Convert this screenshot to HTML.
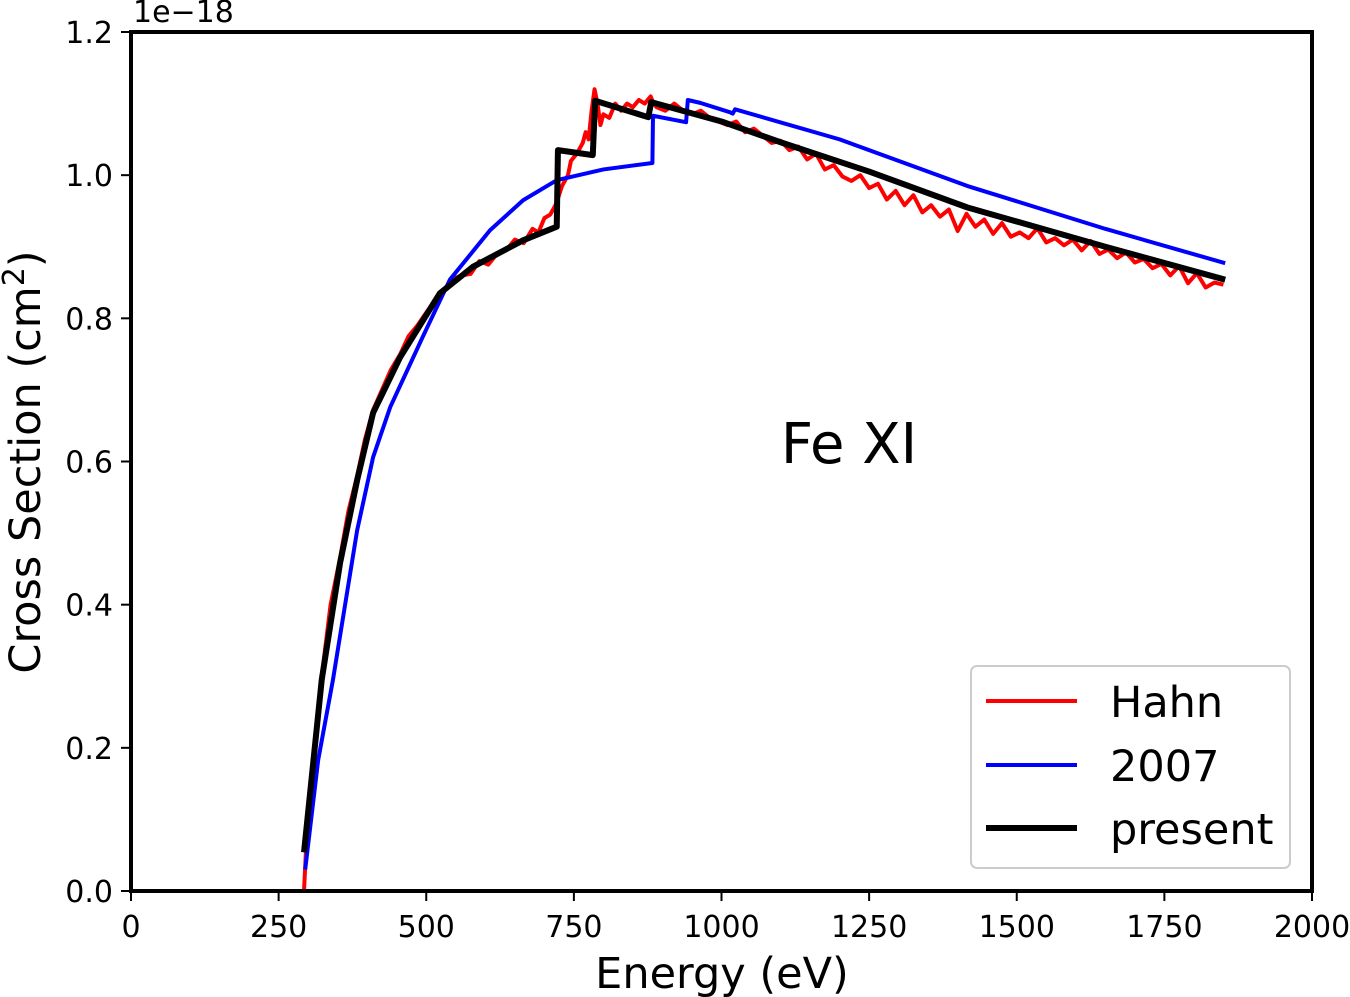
<!DOCTYPE html>
<html><head><meta charset="utf-8"><style>
body{margin:0;background:#fff}
svg{display:block;font-family:"DejaVu Sans","Liberation Sans",sans-serif}
</style></head><body>
<svg id="chart" width="1350" height="997" viewBox="0 0 1350 997">
<g id="plot"></g>
<g id="axes"></g>
</svg>
<script>
const xTicks=[0,250,500,750,1000,1250,1500,1750,2000];
const yTicks=[0.0,0.2,0.4,0.6,0.8,1.0,1.2];
const hahnE=[255,290,293,300,310,323,338,354,368,383,396,410,425,440,456,470,485,500,515,530,545,560,575,590,605,620,635,650,665,680,690,700,710,720,730,740,745,755,765,770,775,780,785,790,795,800,810,820,830,840,850,860,870,880,885,890,905,920,935,950,965,980,995,1010,1025,1040,1055,1070,1085,1100,1115,1130,1145,1160,1175,1190,1205,1220,1235,1250,1265,1280,1295,1310,1325,1340,1355,1370,1385,1400,1415,1430,1445,1460,1475,1490,1505,1520,1535,1550,1565,1580,1595,1610,1625,1640,1655,1670,1685,1700,1715,1730,1745,1760,1775,1790,1805,1820,1835,1850];
const hahnV=[0,0,0,0.12,0.2,0.3,0.4,0.465,0.53,0.58,0.63,0.672,0.7,0.728,0.75,0.775,0.79,0.808,0.825,0.84,0.855,0.86,0.862,0.88,0.875,0.89,0.895,0.91,0.905,0.925,0.92,0.94,0.945,0.96,0.985,1.0,1.02,1.03,1.045,1.06,1.05,1.09,1.12,1.1,1.07,1.085,1.08,1.1,1.09,1.1,1.095,1.105,1.1,1.11,1.1,1.095,1.09,1.1,1.09,1.085,1.09,1.08,1.075,1.07,1.075,1.06,1.065,1.055,1.045,1.048,1.035,1.04,1.022,1.03,1.008,1.014,0.998,0.992,1.0,0.982,0.988,0.966,0.978,0.958,0.972,0.948,0.958,0.942,0.952,0.922,0.946,0.928,0.938,0.918,0.933,0.914,0.92,0.912,0.926,0.906,0.912,0.902,0.91,0.895,0.908,0.89,0.896,0.884,0.892,0.878,0.883,0.87,0.876,0.86,0.873,0.849,0.863,0.843,0.85,0.847];
const e2007E=[295,317,342,383,410,439,494,540,608,664,721,800,883,884,940,943,964,1014,1019,1023,1200,1416,1650,1853];
const e2007V=[0.03,0.183,0.295,0.504,0.606,0.676,0.774,0.854,0.923,0.965,0.993,1.008,1.017,1.083,1.074,1.105,1.101,1.088,1.086,1.092,1.05,0.985,0.925,0.877];
const presentE=[293,323,354,383,410,456,523,579,664,721,723,782,786,876,881,1000,1100,1250,1416,1650,1853];
const presentV=[0.054,0.295,0.458,0.574,0.668,0.746,0.835,0.872,0.909,0.928,1.035,1.028,1.104,1.081,1.102,1.075,1.046,1.005,0.955,0.9,0.854];

const X0=131,X1=1312,Y0=891,Y1=32;
const sx=e=>X0+(e-0)/(2000-0)*(X1-X0);
const sy=v=>Y0-(v-0)/(1.2-0)*(Y0-Y1);
const NS='http://www.w3.org/2000/svg';
const plot=document.getElementById('plot'),axes=document.getElementById('axes');
function mk(tag,attrs,parent){const el=document.createElementNS(NS,tag);for(const k in attrs)el.setAttribute(k,attrs[k]);parent.appendChild(el);return el;}
function line(E,V,color,w,name){
  const p=mk('polyline',{points:E.map((e,i)=>sx(e)+','+sy(V[i])).join(' '),fill:'none',stroke:color,'stroke-width':w,'stroke-linejoin':'round'},plot);
  
  
}
line(hahnE,hahnV,'#ff0000',4,'hahn-line');
line(e2007E,e2007V,'#0000ff',4,'line-2007');
line(presentE,presentV,'#000000',6,'present-line');

const frame=mk('rect',{x:X0,y:Y1,width:X1-X0,height:Y0-Y1,fill:'none',stroke:'#000','stroke-width':4},axes);


xTicks.forEach(t=>{
  mk('line',{x1:sx(t),x2:sx(t),y1:Y0,y2:Y0+10,stroke:'#000','stroke-width':2},axes);
  const tx=mk('text',{x:sx(t),y:Y0+46,'text-anchor':'middle','font-size':30},axes);
  tx.textContent=t;
  
  
});
yTicks.forEach(t=>{
  mk('line',{x1:X0-10,x2:X0,y1:sy(t),y2:sy(t),stroke:'#000','stroke-width':2},axes);
  const tx=mk('text',{x:X0-18,y:sy(t)+11,'text-anchor':'end','font-size':30},axes);
  tx.textContent=t.toFixed(1);
  
  
});
</script>
<svg style="position:absolute;left:0;top:0" width="1350" height="997">
<text x="133" y="22" font-size="30" font-family="DejaVu Sans,sans-serif">1e−18</text>
<text x="722" y="988" text-anchor="middle" font-size="43" font-family="DejaVu Sans,sans-serif">Energy (eV)</text>
<text transform="translate(40,462) rotate(-90)" text-anchor="middle" font-size="43" font-family="DejaVu Sans,sans-serif">Cross Section (cm<tspan font-size="30" dy="-16">2</tspan><tspan dy="16">)</tspan></text>
<text x="849" y="463" text-anchor="middle" font-size="56" font-family="DejaVu Sans,sans-serif">Fe XI</text>
<g>
<rect x="971" y="666" width="319" height="202" rx="6" fill="#fff" stroke="#ccc" stroke-width="2"/>
<line x1="986" x2="1077" y1="701" y2="701" stroke="#f00" stroke-width="4"/>
<text x="1110" y="717" font-size="43" font-family="DejaVu Sans,sans-serif">Hahn</text>
<line x1="986" x2="1077" y1="765" y2="765" stroke="#00f" stroke-width="4"/>
<text x="1110" y="781" font-size="43" font-family="DejaVu Sans,sans-serif">2007</text>
<line x1="986" x2="1077" y1="828" y2="828" stroke="#000" stroke-width="6"/>
<text x="1110" y="844" font-size="43" font-family="DejaVu Sans,sans-serif">present</text>
</g>
</svg>
</body></html>
